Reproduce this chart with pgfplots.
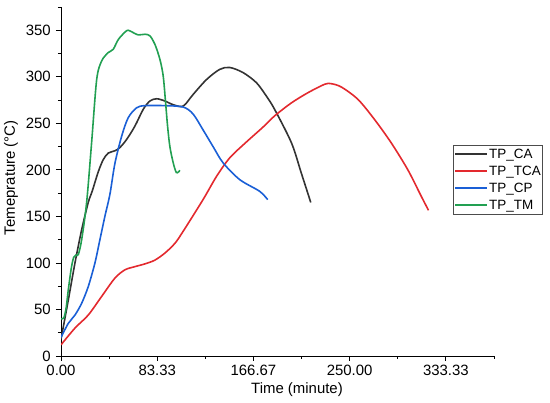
\documentclass[border=0pt]{standalone}
\usepackage{fontspec}
\setmainfont{Liberation Sans}
\usepackage{pgfplots}
\pgfplotsset{compat=1.18}
\definecolor{cCA}{HTML}{333333}
\definecolor{cTCA}{HTML}{E3292E}
\definecolor{cCP}{HTML}{1A5FD6}
\definecolor{cTM}{HTML}{22A052}
\begin{document}
\begin{tikzpicture}
\useasboundingbox (-61bp,-47bp) rectangle (489bp,356bp);
\begin{axis}[
  scale only axis,
  width=433bp, height=349bp,
  at={(0,0)}, anchor=south west,
  xmin=0, xmax=375, ymin=0, ymax=375,
  axis x line*=bottom, axis y line*=left,
  axis line style={line width=0.8bp},
  xtick={0,83.33,166.67,250,333.33},
  xticklabels={0.00,83.33,166.67,250.00,333.33},
  minor xtick={41.67,125,208.33,291.67,375},
  ytick={0,50,100,150,200,250,300,350},
  minor ytick={25,75,125,175,225,275,325,375},
  tick align=outside,
  major tick length=5bp, minor tick length=3bp,
  tick style={line width=0.8bp, black},
  tick label style={font=\fontsize{15}{17}\selectfont},
  xticklabel style={inner sep=0pt, yshift=-4bp},
  yticklabel style={inner sep=0pt, xshift=-5bp},
  /pgf/number format/assume math mode=true,
  xlabel={Time (minute)},
  ylabel={Temeprature (°C)},
  label style={font=\fontsize{15}{17}\selectfont},
  xlabel style={at={(axis description cs:0.545,0)}, anchor=north, inner sep=0pt, yshift=-26bp},
  ylabel style={at={(axis description cs:-0.1155,0.511)}, anchor=center, inner sep=0pt},
  legend style={at={(axis description cs:0.905,0.605)}, anchor=north west,
    font=\fontsize{13.5}{15}\selectfont, draw=black!70, line width=0.6bp,
    inner xsep=1bp, inner ysep=1.5bp, row sep=1.5bp,
    nodes={inner ysep=0pt, inner xsep=1bp, text height=11.5bp, text depth=4bp}},
  legend cell align=left,
  legend image code/.code={\draw[#1, line width=2bp] (0bp,0bp) -- (32bp,0bp);},
  every axis plot/.append style={line width=1.6bp, smooth, no markers},
]
\addplot[cCA] coordinates {
(0,18) (6.3,60) (12.1,100) (17.9,135.7) (23.6,165) (27,177) (32.3,198) (36.6,211) (40.9,218) (46.7,220.5) (51,224) (56.8,232.6) (64,247) (71.2,265) (77,274) (82.8,276.4) (90,274) (97.2,270) (105.8,268.5) (114.4,281) (126,297) (137.5,308) (146.2,310) (157.7,304.5) (169.3,293.6) (178,279) (185,265) (199.6,229) (208,197) (216.3,165)
};
\addlegendentry{TP\_CA}
\addplot[cTCA] coordinates {
(0,12) (12.1,30) (23.6,44) (35.2,64) (46.7,83.7) (55.4,92.6) (64,96) (72.7,99) (81.3,103) (90,110.6) (98.6,121) (105.8,134) (123,168) (134.7,193) (146.2,213) (160.6,230) (175,246) (185,258) (199.6,272) (214,283) (228.4,292) (234,292.6) (242.8,289) (257.2,275.7) (271.6,254) (286,229) (300.4,200) (312,171.6) (318.3,156.5)
};
\addlegendentry{TP\_TCA}
\addplot[cCP] coordinates {
(0,20) (6.3,35) (12.1,44) (17.9,56.7) (23.6,74.6) (29.4,100) (33.7,125) (38,150) (42.4,174) (46.7,207) (52.5,236) (58.2,256) (65.5,266.7) (72.7,269) (90,269) (105.8,267.5) (114.4,260) (123,243) (131.7,225) (140.4,207.5) (154.8,189.5) (172,177) (179,168)
};
\addlegendentry{TP\_CP}
\addplot[cTM] coordinates {
(0,40) (2.5,41) (4.5,52) (6.3,71) (9,95) (11,106) (13,108.5) (15,109) (17.9,125) (22.2,165) (26.5,229) (30.9,297) (35.2,317) (40.9,326) (45.2,329.5) (49.6,340) (55.4,348) (58.2,350) (62.5,347.5) (66.9,345) (72.7,345.7) (77,344) (81.3,335) (85.6,319) (88.5,301) (90.6,272) (92.3,247) (94.3,225) (97.2,207.5) (100,197) (103,199.5)
};
\addlegendentry{TP\_TM}
\end{axis}
\end{tikzpicture}
\end{document}
